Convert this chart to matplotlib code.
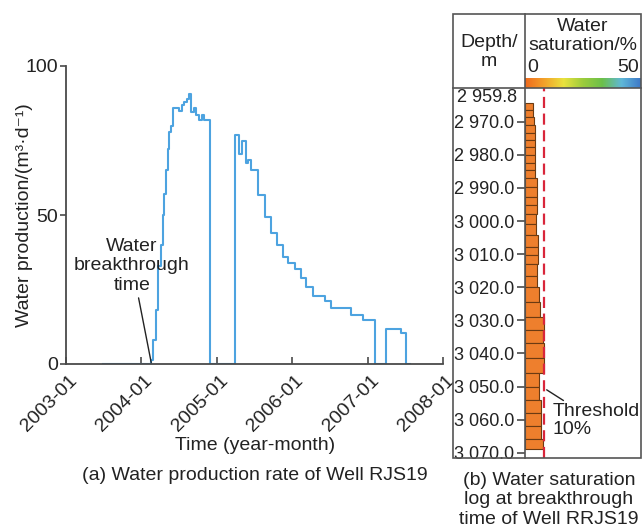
import numpy as np
import matplotlib
matplotlib.use("Agg")
import matplotlib.pyplot as plt
import matplotlib.transforms as mtransforms
from matplotlib.colors import LinearSegmentedColormap
from matplotlib.patches import Rectangle
from matplotlib.lines import Line2D

plt.rcParams['font.family'] = ['Liberation Sans', 'DejaVu Sans']

# ---- (a) water production rate of well RJS19 (time in decimal years) ----
prod_time = [2003.49, 2004.128, 2004.159, 2004.195, 2004.226, 2004.261, 2004.283,
             2004.305, 2004.327, 2004.350, 2004.372, 2004.394, 2004.416, 2004.504,
             2004.540, 2004.571, 2004.602, 2004.628, 2004.659, 2004.704, 2004.726,
             2004.770, 2004.805, 2004.836, 2004.912, 2005.235, 2005.301, 2005.336,
             2005.389, 2005.420, 2005.456, 2005.544, 2005.633, 2005.721, 2005.801,
             2005.876, 2005.942, 2006.031, 2006.119, 2006.186, 2006.274, 2006.429,
             2006.518, 2006.783, 2006.938, 2007.093, 2007.248, 2007.447, 2007.504,
             2007.558]
prod_rate = [0, 1.5, 8, 18, 33, 40, 50,
             57, 65, 72, 78, 80, 86, 85,
             87, 88, 89, 90.5, 84.5, 86, 83.5,
             82, 83.5, 82, 0, 76.8, 70.6, 75,
             67.3, 68.4, 65, 56.7, 49.4, 43.9, 40,
             36, 34, 32, 29, 26, 22.7, 21,
             18.8, 16.5, 14.8, 0, 11.7, 10.4, 0,
             0]
year_ticks = [2003, 2004, 2005, 2006, 2007, 2008]
year_labels = ["2003-01", "2004-01", "2005-01", "2006-01", "2007-01", "2008-01"]
breakthrough_time = 2004.13

# ---- (b) water saturation log at breakthrough ----
layer_top = [2964.3, 2966.5, 2968.7, 2971.0, 2973.5, 2975.6, 2977.6, 2980.1, 2982.4,
             2984.6, 2986.9, 2989.7, 2992.7, 2995.2, 2997.8, 3000.8, 3004.3, 3007.9,
             3010.4, 3012.9, 3016.5, 3020.0, 3024.5, 3029.0, 3033.0, 3037.0, 3041.5,
             3046.0, 3050.0, 3054.0, 3058.0, 3062.0, 3066.0]
layer_bottom = layer_top[1:] + [3069.0]
saturation = [4.2, 4.2, 4.8, 5.1, 5.4, 5.4, 5.4, 5.4, 5.4,
              5.4, 6.3, 6.3, 6.3, 6.3, 6.0, 6.0, 7.0, 7.0,
              7.0, 6.3, 6.3, 7.5, 7.8, 9.8, 9.6, 9.8, 9.8,
              7.5, 7.5, 8.5, 8.5, 8.5, 9.6]
depth_ticks = [2970, 2980, 2990, 3000, 3010, 3020, 3030, 3040, 3050, 3060, 3070]
top_depth = 2959.8
threshold = 10

W, H = 644, 530
fig = plt.figure(figsize=(W / 100, H / 100), dpi=100)

def fx(px):
    return px / W

def fy(py):
    return 1 - py / H

axis_col = '#4a4a4a'
text_col = '#222222'
fs = 14

# ---------------- panel (a) ----------------
ax = fig.add_axes([fx(66), fy(364), fx(443) - fx(66), fy(66) - fy(364)])
ax.plot(prod_time, prod_rate, drawstyle='steps-post', color='#4da3e0', lw=1.5)
ax.set_xlim(2003, 2008)
ax.set_ylim(0, 100)
for s in ['top', 'right']:
    ax.spines[s].set_visible(False)
for s in ['left', 'bottom']:
    ax.spines[s].set_color(axis_col)
    ax.spines[s].set_linewidth(1.3)
ax.set_yticks([0, 50, 100])
ax.tick_params(axis='y', direction='out', length=4, width=1.2, colors=axis_col,
               labelcolor=text_col, labelsize=fs, pad=2)
ax.set_xticks(year_ticks)
ax.set_xticklabels(year_labels, rotation=45, ha='right', va='top',
                   rotation_mode='anchor')
ax.tick_params(axis='x', direction='in', length=5, width=1.2, colors=axis_col,
               labelcolor=text_col, labelsize=fs, pad=6)
shift = mtransforms.ScaledTranslation(2.5 / 100, 0, fig.dpi_scale_trans)
for lbl in ax.get_xticklabels():
    lbl.set_transform(lbl.get_transform() + shift)
ax.set_ylabel('Water production/(m³·d⁻¹)', fontsize=fs, color=text_col)
ax.yaxis.set_label_coords(-0.088, 0.5)

ax.annotate('Water\nbreakthrough\ntime', xy=(breakthrough_time, 0.5),
            xytext=(2003.875, 33), ha='center', va='center', fontsize=fs,
            color=text_col,
            arrowprops=dict(arrowstyle='-', color=text_col, lw=1.0,
                            shrinkA=1, shrinkB=0, relpos=(0.55, 0.0)))

fig.text(fx(255), fy(445), 'Time (year-month)', ha='center', va='center',
         fontsize=fs, color=text_col)
fig.text(fx(255), fy(475), '(a) Water production rate of Well RJS19',
         ha='center', va='center', fontsize=fs, color=text_col)

# ---------------- panel (b) ----------------
box_l, box_r, box_t, box_b = 453, 641, 14, 458
col_x, head_y = 525, 88

ax2 = fig.add_axes([fx(col_x), fy(box_b), fx(box_r) - fx(col_x), fy(head_y) - fy(box_b)])
heights = np.array(layer_bottom) - np.array(layer_top)
ax2.barh(layer_top, saturation, height=heights, align='edge', left=0,
         color='#ee7f2d', edgecolor='#6b3a12', linewidth=0.8)
ax2.axvline(threshold, color='#d9263b', lw=1.6, dashes=(5, 2.5))
ax2.set_xlim(0, 61)
ax2.set_ylim(3071.6, top_depth)
for s in ax2.spines.values():
    s.set_visible(False)
ax2.set_xticks([])
ax2.set_yticks(depth_ticks)
ax2.set_yticklabels([f"{int(d) // 1000} {d % 1000:03d}.0" for d in depth_ticks])
ax2.tick_params(axis='y', direction='out', length=6, width=1.2, colors=axis_col,
                labelcolor=text_col, labelsize=13, pad=1.5)
ax2.annotate(f"{int(top_depth) // 1000} {top_depth % 1000:05.1f}",
             xy=(0, top_depth), xycoords=('axes fraction', 'data'),
             xytext=(-5.8, -0.5), textcoords='offset points',
             ha='right', va='top', fontsize=13, color=text_col)

ax2.annotate('Threshold\n10%', xy=(11.4, 3051.0), xytext=(14.7, 3060.3),
             ha='left', va='center', fontsize=fs, color=text_col,
             linespacing=1.05,
             arrowprops=dict(arrowstyle='-', color=text_col, lw=1.0,
                             shrinkA=0, shrinkB=0, relpos=(0.17, 1.0)))

# colour scale strip in the header
cax = fig.add_axes([fx(col_x), fy(head_y), fx(box_r) - fx(col_x), fy(78) - fy(head_y)])
cmap = LinearSegmentedColormap.from_list(
    'sw', ['#ef6a1e', '#f3a22a', '#e9e23e', '#9ccc3c', '#6cc04a', '#5fb8d8', '#3d78c8'])
cax.imshow(np.linspace(0, 1, 256)[None, :], aspect='auto', cmap=cmap,
           extent=[0, 1, 0, 1])
cax.set_axis_off()

# header text
fig.text(fx(489), fy(52), 'Depth/\nm', ha='center', va='center', fontsize=fs,
         color=text_col, linespacing=1.15)
fig.text(fx(583), fy(36), 'Water\nsaturation/%', ha='center', va='center',
         fontsize=fs, color=text_col, linespacing=1.15)
fig.text(fx(533), fy(67), '0', ha='center', va='center', fontsize=fs, color=text_col)
fig.text(fx(639), fy(67), '50', ha='right', va='center', fontsize=fs, color=text_col)

# table frame
frame_col = '#555555'
fig.patches.append(Rectangle((fx(box_l), fy(box_b)), fx(box_r) - fx(box_l),
                             fy(box_t) - fy(box_b), transform=fig.transFigure,
                             fill=False, edgecolor=frame_col, lw=1.2, zorder=5))
fig.lines.append(Line2D([fx(col_x), fx(col_x)], [fy(box_t), fy(box_b)],
                        transform=fig.transFigure, color=frame_col, lw=1.2, zorder=5))
fig.lines.append(Line2D([fx(box_l), fx(box_r)], [fy(head_y), fy(head_y)],
                        transform=fig.transFigure, color=frame_col, lw=1.2, zorder=5))

fig.text(fx(549), fy(500), '(b) Water saturation\nlog at breakthrough\ntime of Well RRJS19',
         ha='center', va='center', fontsize=fs, color=text_col, linespacing=1.2)

fig.savefig('out.png', dpi=100)
